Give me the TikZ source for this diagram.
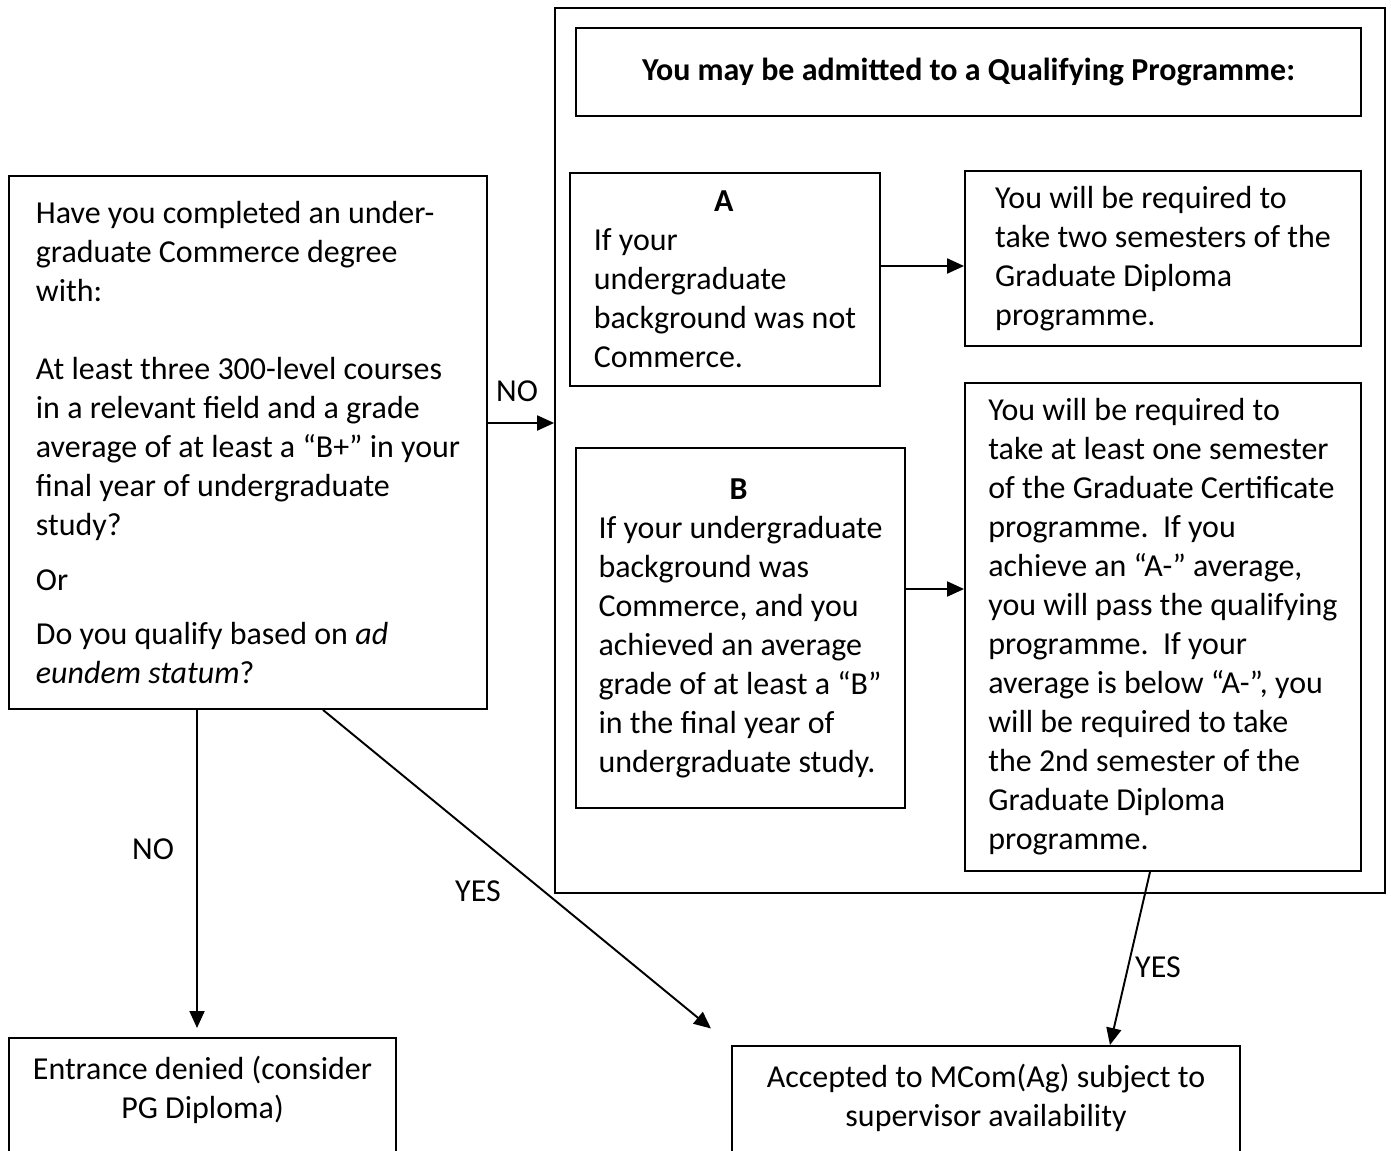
\documentclass[tikz,border=0pt]{standalone}
\usepackage{fontspec}
\setmainfont{Carlito}
\usepackage{tikz}
\usetikzlibrary{arrows.meta}

\tikzset{
  txt/.style = {font=\fontsize{18.2}{22.2}\selectfont},
  box/.style = {draw, line width=1.1pt, inner sep=0pt, txt},
  arr/.style = {line width=1.1pt, -{Triangle[length=0.34cm, width=0.3cm]}}
}

\begin{document}
\begin{tikzpicture}[x=0.02cm, y=-0.02cm]
            \useasboundingbox (0, 0) rectangle (1391, 1151);
            \clip (0, 0) rectangle (1391, 1151);
            \node (qual) at (970, 450.5) [box, minimum width=16.6cm, minimum height=17.7cm] {};
            \node (title) at (968.5, 72) [box, minimum width=15.7cm, minimum height=1.76cm, font=\fontsize{18.2}{22.2}\selectfont\bfseries] {You may be admitted to a Qualifying Programme:};
            \node (q) at (248, 442.5) [box, align=left, minimum width=9.56cm, minimum height=10.66cm] {Have you completed an under-\\graduate Commerce degree\\with:\\[22.2pt]At least three 300-level courses\\in a relevant field and a grade\\average of at least a “B+” in your\\final year of undergraduate\\study?\\[9pt]Or\\[9pt]Do you qualify based on \textit{ad}\\\textit{eundem statum}?};
            \node (a) at (725, 279.5) [box, align=left, minimum width=6.2cm, minimum height=4.26cm] {\makebox[5.2cm]{\textbf{A}}\\If your\\undergraduate\\background was not\\Commerce.};
            \node (ares) at (1163, 258.5) [box, align=left, minimum width=7.92cm, minimum height=3.5cm] {You will be required to\\take two semesters of the\\Graduate Diploma\\programme.};
            \node (b) at (740.5, 628) [box, align=left, minimum width=6.58cm, minimum height=7.2cm] {\makebox[5.6cm]{\textbf{B}}\\If your undergraduate\\background was\\Commerce, and you\\achieved an average\\grade of at least a “B”\\in the final year of\\undergraduate study.};
            \node (bres) at (1163, 627) [box, align=left, minimum width=7.92cm, minimum height=9.76cm] {You will be required to\\take at least one semester\\of the Graduate Certificate\\programme.\ \ If you\\achieve an “A-” average,\\you will pass the qualifying\\programme.\ \ If your\\average is below “A-”, you\\will be required to take\\the 2nd semester of the\\Graduate Diploma\\programme.};
            \node (denied) at (202.5, 1037) [box, anchor=north, align=center, minimum width=7.74cm, inner ysep=0.36cm, text depth=3cm] {Entrance denied (consider\\PG Diploma)};
            \node (acc) at (986, 1045) [box, anchor=north, align=center, minimum width=10.16cm, inner ysep=0.36cm, text depth=3cm] {Accepted to MCom(Ag) subject to\\supervisor availability};
            % connectors
            \draw [arr] ([yshift=0.39cm]q.east) -- ([yshift=0.39cm]qual.west |- q.east);
            \draw [arr] ([yshift=0.27cm]a.east) -- ([yshift=0.27cm]ares.west |- a.east);
            \draw [arr] ([yshift=0.78cm]b.east) -- ([yshift=0.78cm]bres.west |- b.east);
            \draw [arr, shorten >=0.18cm] ([xshift=-1.02cm]q.south) -- ([xshift=-1.02cm]q.south |- denied.north);
            \draw [arr, shorten >=0.52cm] ([xshift=1.5cm]q.south) -- (acc.north west);
            \draw [arr] ([xshift=-0.26cm]bres.south) -- ([xshift=2.48cm]acc.north);
            \node (no1) at (517, 391) [txt] {NO};
            \node (no2) at (153, 849) [txt] {NO};
            \node (yes1) at (478, 891) [txt] {YES};
            \node (yes2) at (1158, 967) [txt] {YES};
        \end{tikzpicture}
\end{document}
